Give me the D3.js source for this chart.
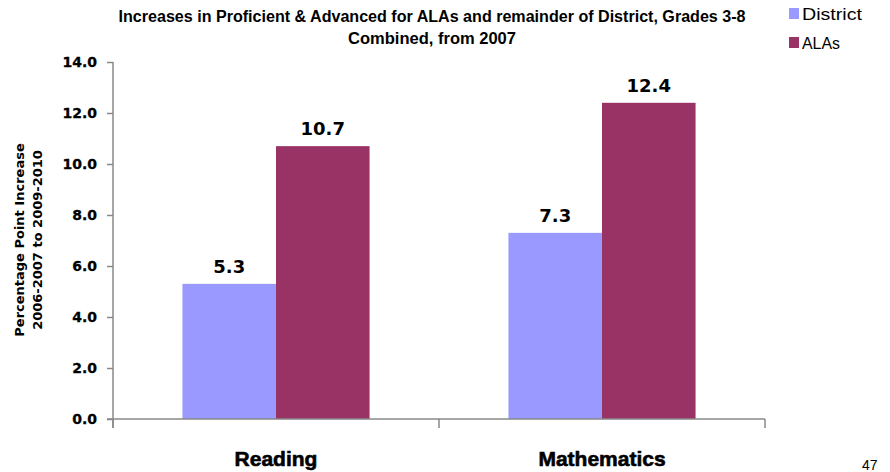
<!DOCTYPE html>
<html><head><meta charset="utf-8">
<script src="https://cdn.jsdelivr.net/npm/d3@7"></script>
<style>body{margin:0;background:#fff}svg{display:block}</style>
</head><body>
<svg id="c" width="890" height="472"></svg>
<script>
const categories = ["Reading", "Mathematics"];
const seriesNames = ["District", "ALAs"];
const districtValues = [5.3, 7.3];
const alasValues = [10.7, 12.4];
const yTicks = [0, 2, 4, 6, 8, 10, 12, 14];
const colors = ["#9999FF", "#993366"];
const titleLines = ["Increases in Proficient & Advanced for ALAs and remainder of District, Grades 3-8", "Combined, from 2007"];
const yTitleLines = ["Percentage Point Increase", "2006-2007 to 2009-2010"];

(function(){
const svg = d3.select("#c");
const pLeft = 113, pRight = 765, pTop = 62, pBottom = 419;
const x = d3.scaleBand().domain(categories).range([pLeft, pRight]).paddingInner(0).paddingOuter(0);
const y = d3.scaleLinear().domain([0, 14]).range([pBottom, pTop]);
const sub = d3.scaleBand().domain(seriesNames).range([x.bandwidth()*0.213, x.bandwidth()*0.787]);

const data = categories.map((c,i)=>({cat:c, vals:[districtValues[i], alasValues[i]]}));

// bars
const g = svg.append("g");
data.forEach(d=>{
  d.vals.forEach((v,j)=>{
    g.append("rect")
      .attr("x", x(d.cat)+sub(seriesNames[j]))
      .attr("y", y(v))
      .attr("width", sub.bandwidth())
      .attr("height", y(0)-y(v))
      .attr("fill", colors[j]);
    g.append("text")
      .attr("x", x(d.cat)+sub(seriesNames[j])+sub.bandwidth()/2)
      .attr("y", y(v)-11)
      .attr("text-anchor","middle")
      .attr("font-family","DejaVu Sans")
      .attr("font-weight","bold")
      .attr("font-size",18)
      .attr("fill","#000")
      .text(v.toFixed(1));
  });
});

// y axis
const ya = svg.append("g").attr("transform",`translate(${pLeft},0)`)
  .call(d3.axisLeft(y).tickValues(yTicks).tickFormat(d3.format(".1f")).tickSize(6).tickPadding(10));
ya.select(".domain").attr("stroke","#888").attr("stroke-width",1.5).attr("d",`M0,${pTop}V${pBottom+9}`);
ya.selectAll(".tick line").attr("stroke","#888").attr("stroke-width",1.5);
ya.selectAll(".tick text").attr("font-family","DejaVu Sans").attr("font-weight","bold")
  .attr("font-size",14).attr("fill","#000").attr("stroke","#000").attr("stroke-width",0.3);

// x axis
const xa = svg.append("g").attr("transform",`translate(0,${pBottom})`);
xa.append("line").attr("x1",pLeft-6).attr("x2",pRight).attr("y1",0).attr("y2",0).attr("stroke","#888").attr("stroke-width",1.5);
[pLeft, pLeft + x.bandwidth(), pRight].forEach(t=>{
  xa.append("line").attr("x1",t).attr("x2",t).attr("y1",0).attr("y2",9).attr("stroke","#888").attr("stroke-width",1.5);
});
categories.forEach(c=>{
  xa.append("text").attr("x", x(c)+x.bandwidth()/2).attr("y", 47)
    .attr("text-anchor","middle").attr("font-family","Liberation Sans")
    .attr("font-weight","bold").attr("font-size",21).attr("fill","#000")
    .attr("stroke","#000").attr("stroke-width",0.6).text(c);
});

// y title
const yt = svg.append("text").attr("transform","translate(24,240) rotate(-90)")
  .attr("text-anchor","middle").attr("font-family","DejaVu Sans").attr("font-weight","bold")
  .attr("font-size",13).attr("fill","#000");
yTitleLines.forEach((t,i)=>yt.append("tspan").attr("x",0).attr("dy", i===0?0:18).text(t));

// title
const titleWidths = [627, 168];
titleLines.forEach((t,i)=>{
  svg.append("text").attr("x",432).attr("y",22+i*22).attr("text-anchor","middle")
    .attr("font-family","Liberation Sans").attr("font-weight","bold")
    .attr("font-size",16).attr("fill","#000")
    .attr("textLength",titleWidths[i]).attr("lengthAdjust","spacingAndGlyphs").text(t);
});

// legend
const legendWidths = [60, 38];
seriesNames.forEach((s,i)=>{
  svg.append("rect").attr("x",789).attr("y",8+i*29).attr("width",10).attr("height",11).attr("fill",colors[i]);
  svg.append("text").attr("x",802).attr("y",20+i*29).attr("font-family","Liberation Sans")
    .attr("font-size",17).attr("fill","#000")
    .attr("textLength",legendWidths[i]).attr("lengthAdjust","spacingAndGlyphs").text(s);
});

// page number
svg.append("text").attr("x",862).attr("y",470).attr("font-family","Liberation Sans").attr("font-size",14).attr("fill","#000").text("47");
})();
</script>
</body></html>
